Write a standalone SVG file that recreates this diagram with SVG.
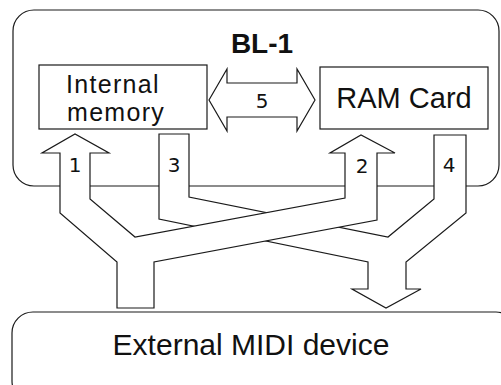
<svg xmlns="http://www.w3.org/2000/svg" width="501" height="385" viewBox="0 0 501 385">
<style>
.box{fill:#fff;stroke:#1a1a1a;stroke-width:1.2}
.arr{fill:#fff;stroke:#1a1a1a;stroke-width:1.2;stroke-linejoin:miter}
.t{font-family:"Liberation Sans",Arial,sans-serif;fill:#111}
.n{font-family:"DejaVu Sans","Liberation Sans",sans-serif;font-size:20px;fill:#111;text-anchor:middle}
</style>
<rect width="501" height="385" fill="#fff"/>
<g id="bl1">
<rect class="box" x="13" y="10" width="486" height="176" rx="21"/>
<text class="t" x="262" y="53" font-size="28" font-weight="bold" text-anchor="middle">BL-1</text>
</g>
<g id="internal-memory">
<rect class="box" x="39" y="65" width="168" height="64"/>
<text class="t" font-size="25" letter-spacing="1.3"><tspan x="66" y="93">Internal</tspan><tspan x="67" y="121">memory</tspan></text>
</g>
<g id="ram-card">
<rect class="box" x="320" y="67" width="168" height="62"/>
<text class="t" x="404" y="108" font-size="29" text-anchor="middle">RAM Card</text>
</g>
<g id="external-midi">
<rect class="box" x="12" y="312" width="505" height="90" rx="21"/>
<text class="t" x="251" y="355" font-size="30" text-anchor="middle">External MIDI device</text>
</g>
<g id="connectors">
<polygon id="c5" class="arr" points="209,100 227,69 227,83 297,83 297,69 315,100 297,131 297,117 227,117 227,131"/>
<polygon id="c34" class="arr" points="159,134 189,134 189,197 388,237 434,199 434,135 466,135 466,213 406,262 406,289 421,289 386,308 352,289 368,289 368,262 159,219"/>
<polygon id="c12" class="arr" points="117,308 117,262 60,213 60,153 42,153 75,134 109,153 90,153 90,199 135,237 345,198 345,153 330,153 361,135 395,153 377,153 377,220 154,262 154,308"/>
<text class="n" x="75" y="172">1</text>
<text class="n" x="362" y="173">2</text>
<text class="n" x="174" y="172">3</text>
<text class="n" x="449" y="172">4</text>
<text class="n" x="262" y="108">5</text>
</g>
</svg>
